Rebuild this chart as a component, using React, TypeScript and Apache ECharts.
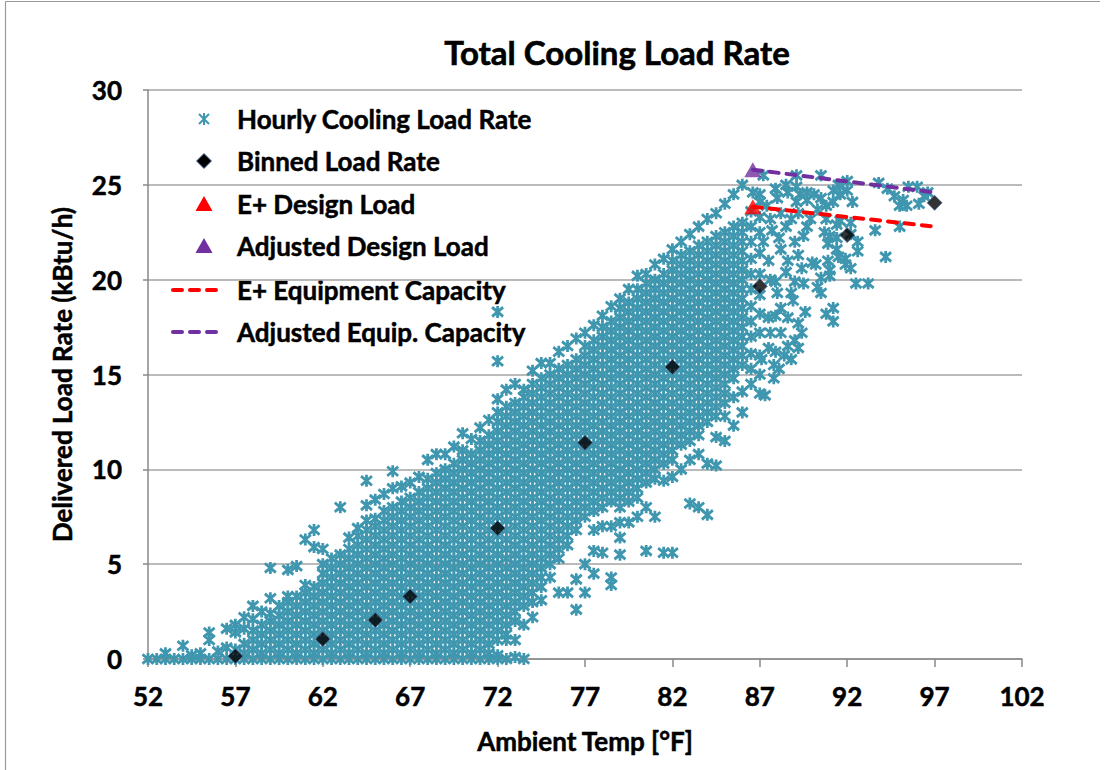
import { useEffect, useRef } from "react";
import * as echarts from "echarts";

// ---------- data ----------
const xTicks = [52, 57, 62, 67, 72, 77, 82, 87, 92, 97, 102];

// Hourly cooling load rate: each row = [ambient temp °F, load values kBtu/h at that temp ...]
const hourlyColumns: number[][] = [
  [52, 0], [52.5, 0], [53, 0, .3], [53.5, 0], [54, 0, .7], [54.5, 0, .2], [55, 0, .3], [55.5, 0, 1, 1.4], [56, 0, .4],
  [56.5, 0, .6, 1.6], [57, 0, .5, 1.4, 1.8], [57.5, 0, .3, .8, 1.6, 2.2], [58, 0, .5, 1, 1.5, 2.1, 2.8],
  [58.5, 0, .3, .8, 1.3, 1.8, 2.5], [59, 0, .5, 1, 1.5, 2, 2.4, 3.2, 4.8], [59.5, 0, .3, .8, 1.3, 1.8, 2.3, 2.8],
  [60, 0, .5, 1, 1.5, 2, 2.5, 3, 3.3, 4.7], [60.5, 0, .3, .8, 1.3, 1.8, 2.3, 2.8, 3.3, 4.9],
  [61, 0, .5, 1, 1.5, 2, 2.5, 3, 3.5, 3.9, 6.3], [61.5, 0, .3, .8, 1.3, 1.8, 2.3, 2.8, 3.3, 3.8, 5.9, 6.8],
  [62, 0, .5, 1, 1.5, 2, 2.5, 3, 3.5, 4, 4.5, 5, 5.8], [62.5, 0, .3, .8, 1.3, 1.8, 2.3, 2.8, 3.3, 3.8, 4.3, 4.8, 5.3],
  [63, 0, .5, 1, 1.5, 2, 2.5, 3, 3.5, 4, 4.5, 5, 5.5, 8], [63.5, 0, .3, .8, 1.3, 1.8, 2.3, 2.8, 3.3, 3.8, 4.3, 4.8, 5.3, 5.8, 6.4],
  [64, 0, .5, 1, 1.5, 2, 2.5, 3, 3.5, 4, 4.5, 5, 5.5, 6, 6.5, 6.9],
  [64.5, 0, .3, .8, 1.3, 1.8, 2.3, 2.8, 3.3, 3.8, 4.3, 4.8, 5.3, 5.8, 6.3, 6.8, 7.3, 8.1, 9.4],
  [65, 0, .5, 1, 1.5, 2, 2.5, 3, 3.5, 4, 4.5, 5, 5.5, 6, 6.5, 7, 7.4, 8.4],
  [65.5, 0, .3, .8, 1.3, 1.8, 2.3, 2.8, 3.3, 3.8, 4.3, 4.8, 5.3, 5.8, 6.3, 6.8, 7.3, 7.8, 8.7],
  [66, 0, .5, 1, 1.5, 2, 2.5, 3, 3.5, 4, 4.5, 5, 5.5, 6, 6.5, 7, 7.5, 8, 9, 9.9],
  [66.5, 0, .3, .8, 1.3, 1.8, 2.3, 2.8, 3.3, 3.8, 4.3, 4.8, 5.3, 5.8, 6.3, 6.8, 7.3, 7.8, 8.3, 9.1],
  [67, 0, .5, 1, 1.5, 2, 2.5, 3, 3.5, 4, 4.5, 5, 5.5, 6, 6.5, 7, 7.5, 8, 8.5, 9.3],
  [67.5, 0, .3, .8, 1.3, 1.8, 2.3, 2.8, 3.3, 3.8, 4.3, 4.8, 5.3, 5.8, 6.3, 6.8, 7.3, 7.8, 8.3, 8.8, 9.6],
  [68, 0, .5, 1, 1.5, 2, 2.5, 3, 3.5, 4, 4.5, 5, 5.5, 6, 6.5, 7, 7.5, 8, 8.5, 9, 9.5, 10.5],
  [68.5, 0, .3, .8, 1.3, 1.8, 2.3, 2.8, 3.3, 3.8, 4.3, 4.8, 5.3, 5.8, 6.3, 6.8, 7.3, 7.8, 8.3, 8.8, 9.3, 9.8, 10.8],
  [69, 0, .5, 1, 1.5, 2, 2.5, 3, 3.5, 4, 4.5, 5, 5.5, 6, 6.5, 7, 7.5, 8, 8.5, 9, 9.5, 10, 10.8],
  [69.5, 0, .3, .8, 1.3, 1.8, 2.3, 2.8, 3.3, 3.8, 4.3, 4.8, 5.3, 5.8, 6.3, 6.8, 7.3, 7.8, 8.3, 8.8, 9.3, 9.8, 10.3, 11.2],
  [70, 0, .5, 1, 1.5, 2, 2.5, 3, 3.5, 4, 4.5, 5, 5.5, 6, 6.5, 7, 7.5, 8, 8.5, 9, 9.5, 10, 10.5, 11, 11.9],
  [70.5, 0, .3, .8, 1.3, 1.8, 2.3, 2.8, 3.3, 3.8, 4.3, 4.8, 5.3, 5.8, 6.3, 6.8, 7.3, 7.8, 8.3, 8.8, 9.3, 9.8, 10.3, 10.8, 11.6],
  [71, 0, .5, 1, 1.5, 2, 2.5, 3, 3.5, 4, 4.5, 5, 5.5, 6, 6.5, 7, 7.5, 8, 8.5, 9, 9.5, 10, 10.5, 11, 11.5, 12.2],
  [71.5, 0, .3, .8, 1.3, 1.8, 2.3, 2.8, 3.3, 3.8, 4.3, 4.8, 5.3, 5.8, 6.3, 6.8, 7.3, 7.8, 8.3, 8.8, 9.3, 9.8, 10.3, 10.8, 11.3, 11.8, 12.6],
  [72, 0, .2, 1, 1.5, 2, 2.5, 3, 3.5, 4, 4.5, 5, 5.5, 6, 6.5, 7, 7.5, 8, 8.5, 9, 9.5, 10, 10.5, 11, 11.5, 12, 12.5, 13, 13.7, 15.7, 18.3],
  [72.5, 0, 1, 1.3, 1.8, 2.3, 2.8, 3.3, 3.8, 4.3, 4.8, 5.3, 5.8, 6.3, 6.8, 7.3, 7.8, 8.3, 8.8, 9.3, 9.8, 10.3, 10.8, 11.3, 11.8, 12.3, 12.8, 13.3, 14.2],
  [73, .1, 1, 2, 2.5, 3, 3.5, 4, 4.5, 5, 5.5, 6, 6.5, 7, 7.5, 8, 8.5, 9, 9.5, 10, 10.5, 11, 11.5, 12, 12.5, 13, 13.5, 14.5],
  [73.5, 0, 1.8, 2.8, 3.3, 3.8, 4.3, 4.8, 5.3, 5.8, 6.3, 6.8, 7.3, 7.8, 8.3, 8.8, 9.3, 9.8, 10.3, 10.8, 11.3, 11.8, 12.3, 12.8, 13.3, 13.8, 14.2],
  [74, 2.2, 3, 3.5, 4, 4.5, 5, 5.5, 6, 6.5, 7, 7.5, 8, 8.5, 9, 9.5, 10, 10.5, 11, 11.5, 12, 12.5, 13, 13.5, 14, 14.5, 15.2],
  [74.5, 3.1, 3.8, 4.3, 4.8, 5.3, 5.8, 6.3, 6.8, 7.3, 7.8, 8.3, 8.8, 9.3, 9.8, 10.3, 10.8, 11.3, 11.8, 12.3, 12.8, 13.3, 13.8, 14.3, 14.8, 15.6],
  [75, 4.3, 5, 5.5, 6, 6.5, 7, 7.5, 8, 8.5, 9, 9.5, 10, 10.5, 11, 11.5, 12, 12.5, 13, 13.5, 14, 14.5, 15, 15.6],
  [75.5, 3.5, 5.3, 5.8, 6.3, 6.8, 7.3, 7.8, 8.3, 8.8, 9.3, 9.8, 10.3, 10.8, 11.3, 11.8, 12.3, 12.8, 13.3, 13.8, 14.3, 14.8, 15.3, 16.2],
  [76, 3.5, 6, 6.5, 7, 7.5, 8, 8.5, 9, 9.5, 10, 10.5, 11, 11.5, 12, 12.5, 13, 13.5, 14, 14.5, 15, 15.5, 16.5],
  [76.5, 2.6, 4.2, 6.8, 7.3, 7.8, 8.3, 8.8, 9.3, 9.8, 10.3, 10.8, 11.3, 11.8, 12.3, 12.8, 13.3, 13.8, 14.3, 14.8, 15.3, 15.8, 16.9],
  [77, 3.5, 5, 7.5, 8, 8.5, 9, 9.5, 10, 10.5, 11, 11.5, 12, 12.5, 13, 13.5, 14, 14.5, 15, 15.5, 16, 16.5, 17.2],
  [77.5, 4.5, 5.7, 6.8, 7.8, 8.3, 8.8, 9.3, 9.8, 10.3, 10.8, 11.3, 11.8, 12.3, 12.8, 13.3, 13.8, 14.3, 14.8, 15.3, 15.8, 16.3, 16.8, 17.6],
  [78, 5.6, 7, 8, 8.5, 9, 9.5, 10, 10.5, 11, 11.5, 12, 12.5, 13, 13.5, 14, 14.5, 15, 15.5, 16, 16.5, 17, 17.5, 18.1],
  [78.5, 3.9, 4.3, 7, 8.3, 8.8, 9.3, 9.8, 10.3, 10.8, 11.3, 11.8, 12.3, 12.8, 13.3, 13.8, 14.3, 14.8, 15.3, 15.8, 16.3, 16.8, 17.3, 17.8, 18.6],
  [79, 5.5, 6.4, 7.2, 8, 8.5, 9, 9.5, 10, 10.5, 11, 11.5, 12, 12.5, 13, 13.5, 14, 14.5, 15, 15.5, 16, 16.5, 17, 17.5, 18, 18.5, 19],
  [79.5, 7.2, 8.3, 8.8, 9.3, 9.8, 10.3, 10.8, 11.3, 11.8, 12.3, 12.8, 13.3, 13.8, 14.3, 14.8, 15.3, 15.8, 16.3, 16.8, 17.3, 17.8, 18.3, 18.8, 19.5],
  [80, 7.5, 8.5, 9, 9.5, 10, 10.5, 11, 11.5, 12, 12.5, 13, 13.5, 14, 14.5, 15, 15.5, 16, 16.5, 17, 17.5, 18, 18.5, 19, 19.5, 20.2],
  [80.5, 5.7, 8, 9.3, 9.8, 10.3, 10.8, 11.3, 11.8, 12.3, 12.8, 13.3, 13.8, 14.3, 14.8, 15.3, 15.8, 16.3, 16.8, 17.3, 17.8, 18.3, 18.8, 19.3, 19.8, 20.3],
  [81, 7.5, 9.5, 10, 10.5, 11, 11.5, 12, 12.5, 13, 13.5, 14, 14.5, 15, 15.5, 16, 16.5, 17, 17.5, 18, 18.5, 19, 19.5, 20, 20.8],
  [81.5, 5.6, 9.4, 10.3, 10.8, 11.3, 11.8, 12.3, 12.8, 13.3, 13.8, 14.3, 14.8, 15.3, 15.8, 16.3, 16.8, 17.3, 17.8, 18.3, 18.8, 19.3, 19.8, 20.3, 21.1],
  [82, 5.6, 9.6, 10.5, 11, 11.5, 12, 12.5, 13, 13.5, 14, 14.5, 15, 15.5, 16, 16.5, 17, 17.5, 18, 18.5, 19, 19.5, 20, 20.5, 21, 21.6],
  [82.5, 10, 11.3, 11.8, 12.3, 12.8, 13.3, 13.8, 14.3, 14.8, 15.3, 15.8, 16.3, 16.8, 17.3, 17.8, 18.3, 18.8, 19.3, 19.8, 20.3, 20.8, 21.3, 22],
  [83, 8.2, 10.5, 11.5, 12, 12.5, 13, 13.5, 14, 14.5, 15, 15.5, 16, 16.5, 17, 17.5, 18, 18.5, 19, 19.5, 20, 20.5, 21, 21.5, 22.4],
  [83.5, 8, 10.8, 11.8, 12.3, 12.8, 13.3, 13.8, 14.3, 14.8, 15.3, 15.8, 16.3, 16.8, 17.3, 17.8, 18.3, 18.8, 19.3, 19.8, 20.3, 20.8, 21.3, 21.8, 22.8],
  [84, 7.6, 10.3, 12.5, 13, 13.5, 14, 14.5, 15, 15.5, 16, 16.5, 17, 17.5, 18, 18.5, 19, 19.5, 20, 20.5, 21, 21.5, 22, 23.2],
  [84.5, 10.2, 11.7, 12.8, 13.3, 13.8, 14.3, 14.8, 15.3, 15.8, 16.3, 16.8, 17.3, 17.8, 18.3, 18.8, 19.3, 19.8, 20.3, 20.8, 21.3, 21.8, 22.3, 23.5],
  [85, 11.5, 12.8, 13.5, 14, 14.5, 15, 15.5, 16, 16.5, 17, 17.5, 18, 18.5, 19, 19.5, 20, 20.5, 21, 21.5, 22, 22.5, 24],
  [85.5, 12.3, 13.8, 14.8, 15.3, 15.8, 16.3, 16.8, 17.3, 17.8, 18.3, 18.8, 19.3, 19.8, 20.3, 20.8, 21.3, 21.8, 22.3, 22.8, 24.5],
  [86, 13, 14.1, 15.5, 16, 16.5, 17, 17.5, 18, 18.5, 19, 19.5, 20, 20.5, 21, 21.5, 22, 22.5, 23, 25],
  [86.5, 14.5, 15.3, 16.1, 17, 17.8, 18.6, 19.5, 20.3, 21.1, 22, 22.8, 23.6],
  [87, 14, 15, 16, 17.2, 18.2, 19.2, 20.3, 21.4, 22.5, 23.3, 24.1],
];

// Scattered hourly points in the hot tail: [temp °F, load kBtu/h]
const hourlyTail: number[][] = [
  [87.2, 25.5], [89.1, 25.5], [89.1, 24.9], [90.5, 25.5], [91.5, 25.0], [92.0, 25.2], [93.8, 25.1], [94.3, 24.8],
  [94.7, 24.4], [95.2, 24.2], [95.0, 23.9], [95.4, 23.9], [95.5, 24.9], [96.0, 24.9], [96.1, 24.0], [96.4, 24.4],
  [96.6, 24.6], [95.0, 22.8], [93.6, 22.6], [92.6, 22.0], [94.2, 21.2], [92.2, 22.4], [91.0, 22.3], [91.5, 21.2],
  [91.9, 21.1], [92.6, 21.5], [91.0, 20.5], [91.0, 20.2], [90.2, 20.8], [91.9, 20.8], [92.2, 20.6], [92.5, 19.8],
  [93.2, 19.8], [90.8, 18.2], [91.2, 18.5], [91.2, 17.8], [90.5, 20.1], [90.5, 19.3], [90.3, 19.6], [89.0, 19.9],
  [89.5, 19.8], [87.5, 21.0], [87.2, 22.0], [88.1, 22.2], [89.0, 22.0], [89.5, 22.3], [89.7, 22.8], [90.7, 22.5],
  [90.9, 21.9], [91.4, 22.2], [91.4, 21.6], [88.6, 21.0], [89.2, 21.3], [89.4, 20.6], [88.5, 20.4], [87.9, 19.9],
  [88.8, 19.3], [87.6, 20.0], [88.2, 21.6], [90.0, 20.9], [90.9, 21.0], [88.0, 24.3], [88.6, 24.6], [89.3, 24.5],
  [89.7, 24.2], [90.1, 24.5], [90.5, 24.3], [90.8, 23.9], [91.2, 24.1], [91.6, 24.5], [91.2, 24.7], [92.0, 24.7],
  [92.3, 24.1], [90.3, 23.7], [90.8, 23.2], [91.6, 23.1], [89.2, 23.5], [88.8, 23.2], [88.2, 23.5], [87.6, 23.2],
  [87.4, 23.9], [87.0, 24.5], [88.5, 25.0], [89.1, 24.1], [89.7, 24.6], [92.2, 23.0], [91.4, 22.9], [88.5, 22.8],
  [89.9, 23.2], [87.9, 24.8], [86.6, 24.6], [87.7, 22.6], [87.5, 18.0], [87.9, 18.1], [88.2, 18.5], [88.6, 18.0],
  [89.2, 17.7], [89.4, 17.2], [89.0, 16.8], [88.2, 17.2], [88.6, 16.5], [87.9, 16.2], [87.5, 16.4], [87.1, 15.8],
  [87.8, 15.5], [87.8, 14.8], [87.3, 13.9], [88.8, 15.8], [89.2, 16.4], [88.1, 15.3], [88.4, 16.0], [87.6, 17.2],
  [88.9, 18.9], [88.0, 19.3], [89.6, 18.3],
];

const binnedTemp = [57, 62, 65, 67, 72, 77, 82, 87, 92, 97];
const binnedLoad = [0.15, 1.05, 2.05, 3.3, 6.9, 11.4, 15.4, 19.65, 22.35, 24.05];

const designTemp = 86.6;
const eplusDesignLoad = 23.85;
const adjustedDesignLoad = 25.8;

const capacityTemp = [86.6, 97];
const eplusCapacity = [23.85, 22.8];
const adjustedCapacity = [25.8, 24.6];

const legendNames = [
  "Hourly Cooling Load Rate",
  "Binned Load Rate",
  "E+ Design Load",
  "Adjusted Design Load",
  "E+ Equipment Capacity",
  "Adjusted Equip. Capacity",
];

// ---------- styles ----------
const TEAL = "#3F96AF";
const RED = "#FF0000";
const PURPLE = "#7030A0";
const FONT = "Lato, 'Open Sans', sans-serif";
const ASTERISK = "path://M0,0L10,10M10,0L0,10M5,-1.5L5,11.5";
const TXT = { fontWeight: "bold", fontFamily: FONT, color: "#000", textBorderColor: "#000", textBorderWidth: 0.5 };

export default function App() {
  const ref = useRef<HTMLDivElement>(null);

  useEffect(() => {
    if (!ref.current) return;
    const chart = echarts.init(ref.current, undefined, { renderer: "svg" });

    const hourly: number[][] = [];
    hourlyColumns.forEach((row) => {
      for (let i = 1; i < row.length; i++) hourly.push([row[0], row[i]]);
    });
    hourlyTail.forEach((p) => hourly.push(p));

    const binned = binnedTemp.map((t, i) => [t, binnedLoad[i]]);
    const eCap = capacityTemp.map((t, i) => [t, eplusCapacity[i]]);
    const aCap = capacityTemp.map((t, i) => [t, adjustedCapacity[i]]);

    const legendRows = [119, 161, 204, 246, 290, 332];
    const mx = 204;
    const tx = 237;
    const lg: any[] = [];
    legendNames.forEach((n, i) => {
      lg.push({
        type: "text",
        x: tx,
        y: legendRows[i],
        style: {
          text: n, fill: "#000", fontSize: 26, fontWeight: "bold", fontFamily: FONT,
          stroke: "#000", lineWidth: 0.5,
          align: "left", verticalAlign: "middle", textAlign: "left", textVerticalAlign: "middle",
        },
      });
    });
    const ay = legendRows[0];
    lg.push(
      { type: "line", shape: { x1: mx - 5, y1: ay - 5, x2: mx + 5, y2: ay + 5 }, style: { stroke: TEAL, lineWidth: 2 } },
      { type: "line", shape: { x1: mx + 5, y1: ay - 5, x2: mx - 5, y2: ay + 5 }, style: { stroke: TEAL, lineWidth: 2 } },
      { type: "line", shape: { x1: mx, y1: ay - 6, x2: mx, y2: ay + 6 }, style: { stroke: TEAL, lineWidth: 2 } },
      { type: "polygon", shape: { points: [[mx, legendRows[1] - 7.5], [mx + 7.5, legendRows[1]], [mx, legendRows[1] + 7.5], [mx - 7.5, legendRows[1]]] }, style: { fill: "#000", stroke: "#4F6FA0", lineWidth: 1 } },
      { type: "polygon", shape: { points: [[mx, legendRows[2] - 8], [mx + 8.5, legendRows[2] + 7], [mx - 8.5, legendRows[2] + 7]] }, style: { fill: RED } },
      { type: "polygon", shape: { points: [[mx, legendRows[3] - 8], [mx + 8.5, legendRows[3] + 7], [mx - 8.5, legendRows[3] + 7]] }, style: { fill: PURPLE } },
      { type: "line", shape: { x1: 173, y1: legendRows[4], x2: 221, y2: legendRows[4] }, style: { stroke: RED, lineWidth: 4, lineDash: [9, 8], lineCap: "round" } },
      { type: "line", shape: { x1: 173, y1: legendRows[5], x2: 221, y2: legendRows[5] }, style: { stroke: PURPLE, lineWidth: 4, lineDash: [9, 8], lineCap: "round" } }
    );

    chart.setOption({
      animation: false,
      backgroundColor: "#fff",
      grid: { left: 148, right: 94, top: 90, bottom: 111, containLabel: false },
      xAxis: {
        type: "value",
        min: 52,
        max: 102,
        name: "Ambient Temp [°F]",
        nameLocation: "middle",
        nameGap: 69,
        nameTextStyle: { ...TXT, fontSize: 26 },
        axisLine: { show: true, onZero: false, lineStyle: { color: "#888", width: 1.5 } },
        axisTick: { show: true, inside: false, length: 8, customValues: xTicks, lineStyle: { color: "#888", width: 1.5 } },
        axisLabel: { ...TXT, customValues: xTicks, margin: 24, fontSize: 26 },
        splitLine: { show: false },
      },
      yAxis: {
        type: "value",
        min: 0,
        max: 30,
        interval: 5,
        name: "Delivered Load Rate (kBtu/h)",
        nameLocation: "middle",
        nameGap: 73,
        nameTextStyle: { ...TXT, fontSize: 26 },
        axisLine: { show: true, lineStyle: { color: "#888", width: 1.5 } },
        axisTick: { show: true, inside: false, length: 5, lineStyle: { color: "#888", width: 1.5 } },
        axisLabel: { ...TXT, margin: 26, fontSize: 26 },
        splitLine: { show: true, lineStyle: { color: "#A3A3A3", width: 1.5 } },
      },
      graphic: [
        { type: "line", shape: { x1: 5.5, y1: 1.5, x2: 1100, y2: 1.5 }, style: { stroke: "#9a9a9a", lineWidth: 1.2 } },
        { type: "line", shape: { x1: 5.5, y1: 1.5, x2: 5.5, y2: 770 }, style: { stroke: "#9a9a9a", lineWidth: 1.2 } },
        {
          type: "text",
          x: 617,
          y: 52,
          style: {
            text: "Total Cooling Load Rate", fill: "#000", fontSize: 33, fontWeight: "bold", fontFamily: FONT,
            stroke: "#000", lineWidth: 0.6,
            align: "center", verticalAlign: "middle", textAlign: "center", textVerticalAlign: "middle",
          },
        },
        ...lg,
      ],
      series: [
        {
          name: legendNames[0],
          type: "scatter",
          data: hourly,
          symbol: ASTERISK,
          symbolSize: [11, 12],
          silent: true,
          itemStyle: { color: "rgba(0,0,0,0)", borderColor: TEAL, borderWidth: 2.9, opacity: 1 },
          z: 2,
        },
        {
          name: legendNames[1],
          type: "scatter",
          data: binned,
          symbol: "diamond",
          symbolSize: 15,
          silent: true,
          itemStyle: { color: "#000", borderColor: "#4F6FA0", borderWidth: 1 },
          z: 3,
        },
        {
          name: legendNames[4],
          type: "line",
          data: eCap,
          showSymbol: false,
          symbol: "none",
          silent: true,
          lineStyle: { color: RED, width: 4, type: [9, 8], cap: "round" },
          z: 4,
        },
        {
          name: legendNames[5],
          type: "line",
          data: aCap,
          showSymbol: false,
          symbol: "none",
          silent: true,
          lineStyle: { color: PURPLE, width: 4, type: [9, 8], cap: "round" },
          z: 4,
        },
        {
          name: legendNames[2],
          type: "scatter",
          data: [[designTemp, eplusDesignLoad]],
          symbol: "triangle",
          symbolSize: [17, 15],
          silent: true,
          itemStyle: { color: RED },
          z: 5,
        },
        {
          name: legendNames[3],
          type: "scatter",
          data: [[designTemp, adjustedDesignLoad]],
          symbol: "triangle",
          symbolSize: [17, 15],
          silent: true,
          itemStyle: { color: PURPLE },
          z: 5,
        },
      ],
    });

    return () => chart.dispose();
  }, []);

  return (
    <div
      ref={ref}
      style={{ position: "fixed", left: 0, top: 0, width: 1116, height: 770, background: "#fff" }}
    />
  );
}
